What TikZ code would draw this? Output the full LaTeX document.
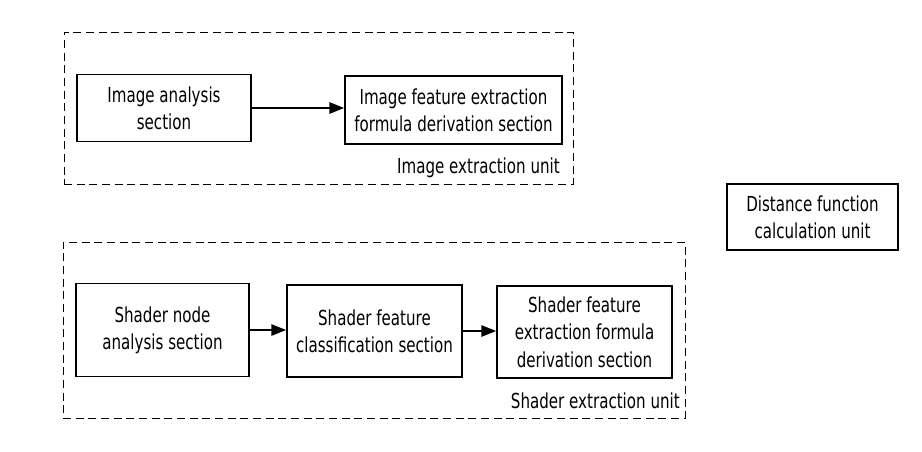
\documentclass[tikz,border=0pt]{standalone}
\usepackage{fontspec}
\setmainfont{DejaVu Sans}[FakeStretch=0.73]
\usetikzlibrary{arrows.meta, positioning}

\begin{document}
\begin{tikzpicture}[x=0.75pt, y=-0.75pt,
  section/.style={draw, line width=1.3pt, align=center, inner sep=0pt,
    font=\fontsize{15.5}{20.5}\selectfont},
  unit/.style={draw, line width=0.7pt, dash pattern=on 6pt off 3.5pt, inner sep=0pt},
  unitlabel/.style={anchor=base east, inner sep=0pt, font=\fontsize{15.5}{20.5}\selectfont},
  flow/.style={-{Triangle[length=11pt, width=8.5pt]}, line width=1.1pt}]

  \useasboundingbox (0,0) rectangle (922,451);

  % Image extraction unit
  \node[unit, minimum width=381.75pt, minimum height=114pt] (iunit) at (318.5,108) {};
  \node[section, minimum width=130.5pt, minimum height=50.25pt] (ianalysis) at (164,108)
    {Image analysis\\section};
  \node[section, minimum width=162.75pt, minimum height=51pt] (iformula) at (453.5,110)
    {Image feature extraction\\formula derivation section};
  \node[unitlabel] (ilabel) at (560,173) {Image extraction unit};

  % Shader extraction unit
  \node[unit, minimum width=466.5pt, minimum height=132pt] (sunit) at (374,330) {};
  \node[section, minimum width=129.75pt, minimum height=69.75pt] (snode) at (162.5,330)
    {Shader node\\analysis section};
  \node[section, minimum width=131.25pt, minimum height=69pt] (sclass) at (374.5,331)
    {Shader feature\\classification section};
  \node[section, minimum width=131.25pt, minimum height=69pt] (sformula) at (584.5,332)
    {Shader feature\\extraction formula\\derivation section};
  \node[unitlabel] (slabel) at (680,408) {Shader extraction unit};

  % Distance function
  \node[section, minimum width=128.25pt, minimum height=49.5pt] (dist) at (812.5,217)
    {Distance function\\calculation unit};

  % Arrows
  \draw[flow] (ianalysis.east) -- (ianalysis.east -| iformula.west);
  \draw[flow] (snode.east) -- (snode.east -| sclass.west);
  \draw[flow] (sclass.east) -- (sclass.east -| sformula.west);

\end{tikzpicture}
\end{document}
